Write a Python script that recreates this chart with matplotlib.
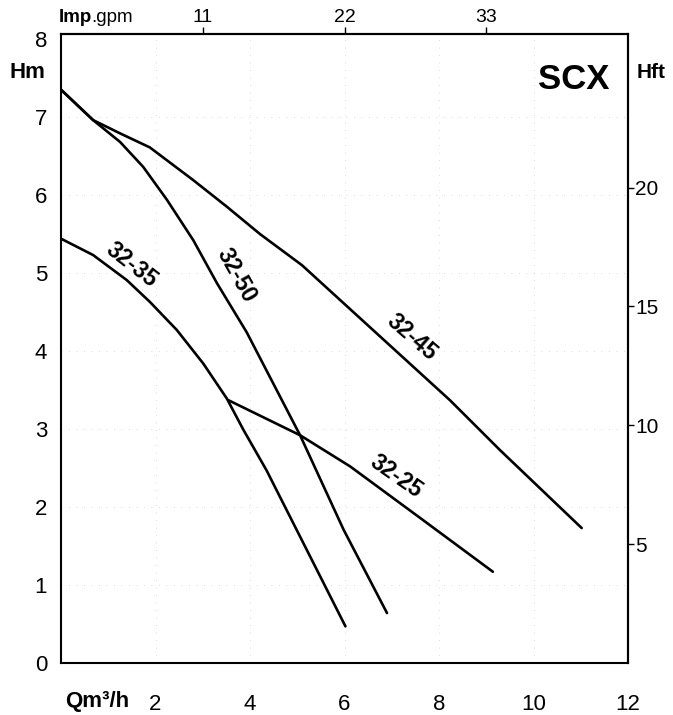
import matplotlib.pyplot as plt
import numpy as np

plt.rcParams['font.family'] = ['Liberation Sans', 'DejaVu Sans']

# pump curves, Q in m3/h, H in m
q_3250 = [0, 0.68, 1.25, 1.74, 2.24, 2.8, 3.3, 3.93, 5.06, 5.98, 6.9]
h_3250 = [7.35, 6.96, 6.68, 6.36, 5.94, 5.42, 4.87, 4.24, 2.92, 1.71, 0.64]

q_3245 = [0, 0.68, 1.25, 1.88, 2.8, 3.51, 4.21, 5.1, 6.33, 8.23, 9.29, 11.02]
h_3245 = [7.35, 6.96, 6.79, 6.61, 6.19, 5.85, 5.5, 5.1, 4.42, 3.37, 2.73, 1.73]

q_3235 = [0, 0.68, 1.39, 1.88, 2.45, 3.01, 3.51, 3.86, 4.35, 5.06, 6.02]
h_3235 = [5.44, 5.23, 4.91, 4.63, 4.27, 3.84, 3.39, 2.99, 2.47, 1.62, 0.47]

q_3225 = [3.54, 5.06, 6.12, 7.6, 9.14]
h_3225 = [3.37, 2.92, 2.52, 1.86, 1.17]

x_ticks = [2, 4, 6, 8, 10, 12]
y_ticks = [0, 1, 2, 3, 4, 5, 6, 7, 8]
ft_ticks = [5, 10, 15, 20]
gpm_ticks = [11, 22, 33]

fig = plt.figure(figsize=(6.73, 7.15), dpi=100)
ax = fig.add_axes([61 / 673, 52 / 715, 567 / 673, 629 / 715])

ax.set_xlim(0, 12)
ax.set_ylim(0, 8.064)

# faint dotted grid like the scan
for v in y_ticks[1:-1]:
    ax.axhline(v, color='#d4d4d4', lw=0.6, ls=(0, (1, 8)), zorder=0)
for v in x_ticks[:-1]:
    ax.axvline(v, color='#d4d4d4', lw=0.6, ls=(0, (1, 8)), zorder=0)

for q, h in [(q_3250, h_3250), (q_3245, h_3245), (q_3235, h_3235), (q_3225, h_3225)]:
    ax.plot(q, h, color='black', lw=1.9, solid_capstyle='round', solid_joinstyle='round')

lab = dict(fontsize=16.5, fontweight='bold', ha='center', va='center')
ax.text(1.5, 5.1, '32-35', rotation=-38, **lab)
ax.text(3.7, 4.97, '32-50', rotation=-61, **lab)
ax.text(7.42, 4.17, '32-45', rotation=-41, **lab)
ax.text(7.1, 2.39, '32-25', rotation=-35, **lab)

ax.text(0.905, 0.927, 'SCX', transform=ax.transAxes, fontsize=25,
        fontweight='bold', ha='center', va='center')

for s in ax.spines.values():
    s.set_linewidth(1.5)

ax.set_xticks(x_ticks)
ax.set_yticks(y_ticks)
ax.tick_params(axis='x', length=0, pad=22, labelsize=16)
ax.tick_params(axis='y', length=0, pad=10, labelsize=16)

# right axis in feet
sec_y = ax.secondary_yaxis('right', functions=(lambda m: m / 0.3048, lambda f: f * 0.3048))
sec_y.set_yticks(ft_ticks)
sec_y.tick_params(length=4, width=1, pad=1, labelsize=15)
sec_y.spines['right'].set_linewidth(1.5)

# top axis in imperial gpm
sec_x = ax.secondary_xaxis('top', functions=(lambda q: q * 3.666, lambda g: g / 3.666))
sec_x.set_xticks(gpm_ticks)
sec_x.tick_params(length=5, width=1, pad=1, labelsize=14)
sec_x.spines['top'].set_linewidth(1.5)

fig.text(27 / 673, 1 - 72 / 715, 'Hm', fontsize=16, fontweight='bold', ha='center', va='center')
fig.text(651 / 673, 1 - 72 / 715, 'Hft', fontsize=15, fontweight='bold', ha='center', va='center')
fig.text(97 / 673, 1 - 701 / 715, 'Qm³/h', fontsize=16, fontweight='bold', ha='center', va='center')
fig.text(59 / 673, 1 - 17 / 715, 'Imp', fontsize=13.5, fontweight='bold', ha='left', va='center')
fig.text(91 / 673, 1 - 17 / 715, '.gpm', fontsize=13.5, ha='left', va='center')

fig.savefig('out.png', dpi=100)
